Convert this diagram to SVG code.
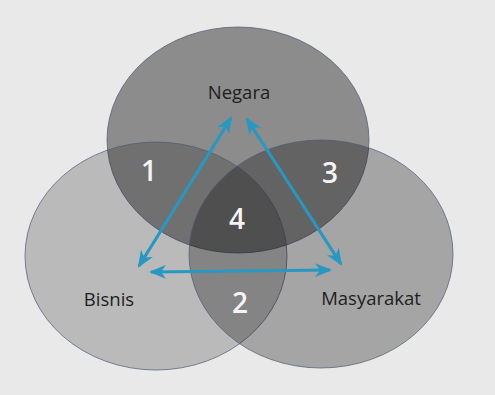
<svg xmlns="http://www.w3.org/2000/svg" width="495" height="395" viewBox="0 0 495 395">
<defs>
<style>
.c{stroke:#4b5a72;stroke-width:1;stroke-opacity:0.7}
.lbl{font-family:"Open Sans","Liberation Sans",sans-serif;font-size:18.5px;fill:#1e1e1e;text-anchor:middle}
.num{font-family:"Open Sans","Liberation Sans",sans-serif;font-size:28px;font-weight:600;fill:#f4f4f4;text-anchor:middle}
.ar{stroke:#2798c2;stroke-width:3.2;fill:none;marker-start:url(#ah);marker-end:url(#ah)}
</style>
<marker id="ah" viewBox="0 0 17 14" refX="15" refY="7" markerWidth="17" markerHeight="14" markerUnits="userSpaceOnUse" orient="auto-start-reverse">
<path d="M0,0 L17,7 L0,14 L5,7 Z" fill="#2798c2"/>
</marker>
</defs>
<rect width="495" height="395" fill="#e9e9e9"/>
<g id="negara">
<ellipse class="c" cx="238" cy="140" rx="131" ry="113" fill="#000" fill-opacity="0.40"/>
<text class="lbl" x="239" y="99">Negara</text>
</g>
<g id="bisnis">
<ellipse class="c" cx="156" cy="256" rx="131" ry="114" fill="#000" fill-opacity="0.20"/>
<text class="lbl" x="109" y="306">Bisnis</text>
</g>
<g id="masyarakat">
<ellipse class="c" cx="321" cy="254" rx="132" ry="114" fill="#000" fill-opacity="0.29"/>
<text class="lbl" x="371" y="305">Masyarakat</text>
</g>
<g id="region-labels">
<text class="num" x="149" y="181">1</text>
<text class="num" x="240" y="313">2</text>
<text class="num" x="330" y="183">3</text>
<text class="num" x="237" y="229">4</text>
</g>
<g id="connectors">
<line class="ar" x1="231" y1="118" x2="139" y2="266"/>
<line class="ar" x1="247" y1="119" x2="341" y2="264"/>
<line class="ar" x1="151" y1="272" x2="330" y2="270"/>
</g>
</svg>
